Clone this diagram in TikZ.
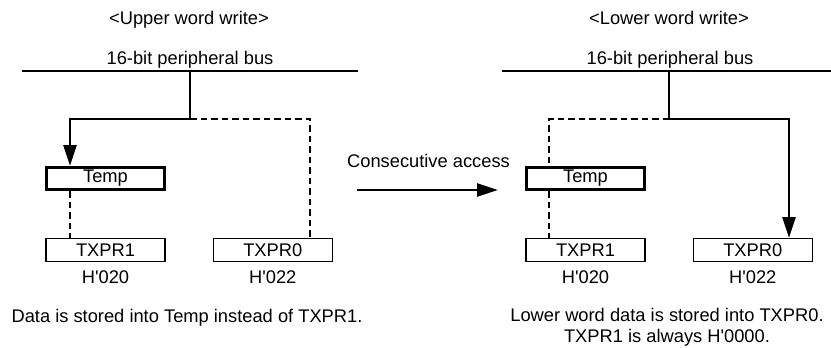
\documentclass[tikz,border=0pt]{standalone}
\usepackage{fontspec}
\setmainfont{Liberation Sans}
\usetikzlibrary{arrows.meta,positioning}

\tikzset{
  regbox/.style={draw,line width=1.3pt,minimum width=119pt,minimum height=22.7pt,inner sep=0pt},
  tempbox/.style={draw,line width=2.7pt,minimum width=118.5pt,minimum height=22.3pt,inner sep=0pt},
  addr/.style={inner sep=0pt},
  bus/.style={line width=2.8pt},
  feed/.style={line width=2.7pt,-{Triangle[length=21pt,width=13pt]}},
  dashline/.style={line width=1.3pt,dash pattern=on 6.5pt off 4pt}
}

\begin{document}
\begin{tikzpicture}[x=1pt,y=-1pt,font=\fontsize{18.3}{21}\selectfont]
  \useasboundingbox (0,0) rectangle (831,348);

  % upper word write
  \node[anchor=base] (titleA) at (189,24) {<Upper word write>};
  \node[anchor=base] (busnameA) at (190,64) {16-bit peripheral bus};
  \coordinate (busA1) at (22,71);
  \coordinate (busA2) at (358,71);
  \coordinate (tapA) at (190,71);
  \coordinate (forkA) at (190,119);
  \coordinate (dropA) at (70,119);
  \coordinate (sideA) at (310,119);
  \node[regbox] (txpr1A) at (105.5,250) {TXPR1};
  \node[tempbox] (tempA) [above=47pt of txpr1A] {Temp};
  \node[regbox] (txpr0A) [right=47pt of txpr1A] {TXPR0};
  \node[addr] (addr1A) [below=9pt of txpr1A] {H\textquotesingle020};
  \node[addr] (addr0A) [below=9pt of txpr0A] {H\textquotesingle022};
  \node[anchor=base] (noteA) at (187,322) {Data is stored into Temp instead of TXPR1.};
  \draw[bus] (busA1) -- (busA2);
  \draw[feed] (tapA) -- (forkA) -- (dropA) -- (dropA |- tempA.north);
  \draw[dashline] (forkA) -- (sideA) -- (sideA |- txpr0A.north);
  \draw[dashline] (dropA |- tempA.south) -- (dropA |- txpr1A.north);

  % consecutive access
  \node[anchor=base] (consec) at (428.5,167) {Consecutive access};
  \coordinate (goA) at (357,190);
  \coordinate (goB) at (498,190);
  \draw[feed] (goA) -- (goB);

  % lower word write
  \node[anchor=base] (titleB) at (669,24) {<Lower word write>};
  \node[anchor=base] (busnameB) at (670,64) {16-bit peripheral bus};
  \coordinate (busB1) at (502,71);
  \coordinate (busB2) at (831,71);
  \coordinate (tapB) at (669,71);
  \coordinate (forkB) at (669,119);
  \coordinate (dropB) at (549,119);
  \coordinate (sideB) at (789,119);
  \node[regbox] (txpr1B) at (585.5,250) {TXPR1};
  \node[tempbox] (tempB) [above=47pt of txpr1B] {Temp};
  \node[regbox] (txpr0B) [right=47pt of txpr1B] {TXPR0};
  \node[addr] (addr1B) [below=9pt of txpr1B] {H\textquotesingle020};
  \node[addr] (addr0B) [below=9pt of txpr0B] {H\textquotesingle022};
  \node[addr,align=center] (noteB) at (667,327.7) {Lower word data is stored into TXPR0.\\TXPR1 is always H\textquotesingle0000.};
  \draw[bus] (busB1) -- (busB2);
  \draw[bus] (tapB) -- (forkB);
  \draw[feed] (forkB) -- (sideB) -- (sideB |- txpr0B.north);
  \draw[dashline] (forkB) -- (dropB) -- (dropB |- tempB.north);
  \draw[dashline] (dropB |- tempB.south) -- (dropB |- txpr1B.north);
\end{tikzpicture}
\end{document}
